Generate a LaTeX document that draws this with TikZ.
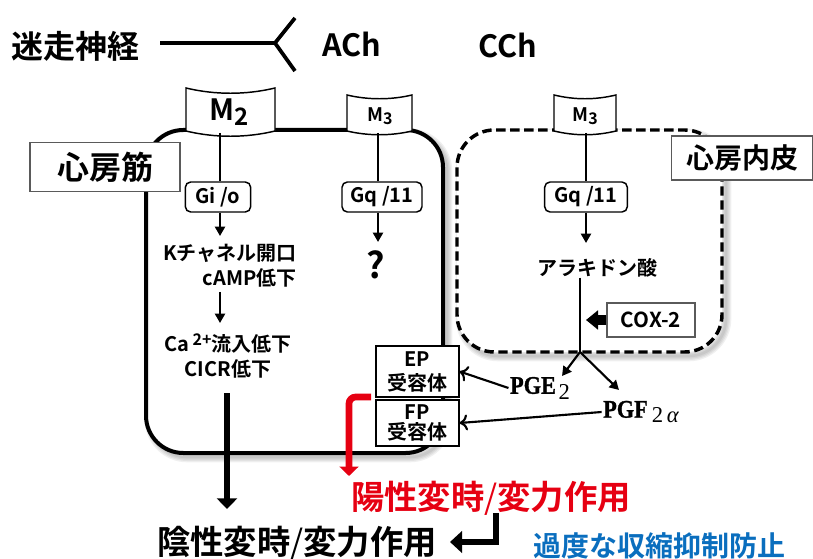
\documentclass[tikz,border=0pt]{standalone}
\usepackage{fontspec}
\setmainfont{Noto Sans CJK JP}[BoldFont={Noto Sans CJK JP Bold}]
\newfontfamily\pgfont{Liberation Serif}[BoldFont={Liberation Serif Bold},BoldFeatures={FakeBold=1.2}]
\usetikzlibrary{arrows.meta}
\definecolor{redc}{RGB}{230,0,18}
\definecolor{bluec}{RGB}{10,110,190}
\definecolor{grayb}{RGB}{90,90,90}
\newcommand\myfs[2]{\fontsize{#1}{#2}\selectfont}
\newcommand\slsh{{\mdseries /}}
\begin{document}
\begin{tikzpicture}[x=0.75pt,y=-0.75pt,
  txt/.style={font=\bfseries\myfs{#1}{#1}, inner sep=0pt},
  gbox/.style={draw, rounded corners=4pt, line width=1.1pt, fill=white, inner xsep=2pt, inner ysep=0pt, minimum height=22.5pt, font=\bfseries\myfs{15}{15}},
  rbox/.style={draw, line width=1.1pt, fill=white, inner sep=0pt, align=center},
  gybox/.style={draw=grayb, line width=0.8pt, fill=white, inner sep=0pt},
  thin/.style={line width=1.6pt},
  tri/.style={-{Triangle[length=7pt,width=7.5pt]}},
  opn/.style={-{To[length=6pt,width=12pt,line width=1.6pt]}},
  recep/.style={draw, fill=white, line width=1.1pt},
  shad/.style={draw=black, opacity=0.06, rounded corners=28pt},
  pgtxt/.style={font=\pgfont\myfs{19}{19}, inner sep=1pt}
]
\useasboundingbox (0,0) rectangle (813,559);

% shadows
\foreach \w in {2,4,6,8}{
  \draw[shad, line width=\w pt] (150,134) rectangle (447,457);
  \draw[shad, line width=\w pt] (461,134) rectangle (726,356);
}
% cells
\draw[line width=3pt, rounded corners=28pt, fill=white] (146,130) rectangle (443,453);
\draw[line width=2.6pt, dash pattern=on 7pt off 3.5pt, rounded corners=28pt, fill=white] (457,130) rectangle (722,352);

% vagus
\node[txt=24] (vagus) at (76,46) {迷走神経};
\coordinate (vl) at (160,43);
\coordinate (fork) at (275,43);
\coordinate (fu) at (295,18);
\coordinate (fd) at (295,71);
\draw[line width=2.8pt] (vl) -- (fork);
\draw[line width=2.8pt] (fu) -- (fork) -- (fd);
\node[txt=23] (ach) at (352,44) {ACh};
\node[txt=23] (cch) at (508,45) {CCh};

% receptors
\draw[recep] (186,88) .. controls (215,95) and (246,95) .. (275,88) -- (275,131) .. controls (246,138) and (215,138) .. (186,131) -- cycle;
\node[txt=22] (m2) at (229,112) {M\raisebox{-0.35ex}{\myfs{18}{18}2}};
\draw[recep] (347,95) .. controls (368,100) and (391,100) .. (412,95) -- (412,131) .. controls (391,136) and (368,136) .. (347,131) -- cycle;
\node[txt=14] (m3a) at (380,116) {M\raisebox{-0.35ex}{\myfs{12}{12}3}};
\draw[recep] (554,95) .. controls (575,100) and (595,100) .. (616,95) -- (616,131) .. controls (595,136) and (575,136) .. (554,131) -- cycle;
\node[txt=14] (m3b) at (585,116) {M\raisebox{-0.35ex}{\myfs{12}{12}3}};

% labels
\node[gybox, minimum width=112.5pt, minimum height=37pt, font=\bfseries\myfs{24}{24}] (atrium) at (105,167) {心房筋};
\node[gybox, minimum width=106pt, minimum height=33pt, font=\bfseries\myfs{21}{21}] (endo) at (742,158) {心房内皮};

% left pathway
\coordinate (m2b) at (220,133);
\node[gbox, minimum width=49pt] (gio) at (218,197) {Gi /o};
\draw[thin] (m2b) -- (m2b |- gio.north);
\coordinate (ka) at (220,236);
\draw[thin,tri] (m2b |- gio.south) -- (ka);
\node[font=\bfseries\myfs{15}{19}, align=right, anchor=east, inner sep=0pt] (ktxt) at (297,266) {Kチャネル開口\\cAMP低下};
\coordinate (c1) at (220,292);
\coordinate (c2) at (220,323);
\draw[thin,tri] (c1) -- (c2);
\node[font=\bfseries\myfs{15}{19}, align=center, inner sep=0pt] (catxt) at (228,356) {Ca\,\raisebox{0.55ex}{\myfs{12}{12}2+}流入低下\\CICR低下};
\coordinate (b1) at (227,393);
\coordinate (b2) at (227,509);
\draw[line width=4.5pt, -{Triangle[length=8pt,width=15pt]}] (b1) -- (b2);

% middle pathway
\coordinate (m3ab) at (378,133);
\node[gbox, minimum width=60pt] (gq1) at (382,197) {Gq /11};
\draw[thin] (m3ab) -- (m3ab |- gq1.north);
\coordinate (qa) at (378,242);
\draw[thin,tri] (m3ab |- gq1.south) -- (qa);
\node[txt=27] (q) at (376,265) {?};

% endothelium pathway
\coordinate (m3bb) at (586,133);
\node[gbox, minimum width=62pt] (gq2) at (586,197) {Gq /11};
\draw[thin] (m3bb) -- (m3bb |- gq2.north);
\coordinate (aa) at (586,243);
\draw[thin,tri] (m3bb |- gq2.south) -- (aa);
\node[txt=15] (ara) at (597,268) {アラキドン酸};
\coordinate (br) at (580,352);
\draw[thin] (ara.south -| br) -- (br);
\node[gybox, minimum width=66pt, minimum height=25.5pt, font=\bfseries\myfs{15.5}{15.5}] (cox) at (651,320) {COX-2};
\coordinate (coxt) at (586,320);
\draw[line width=7pt, -{Triangle[length=9pt,width=14pt]}] (cox.west) -- (coxt);

\coordinate (e1) at (562,376);
\coordinate (f1) at (619,390);
\draw[thin,tri] (br) -- (e1);
\draw[thin,tri] (br) -- (f1);

\node[pgtxt] (pge) at (540,388) {{\bfseries\scalebox{0.88}[1]{PGE}}\hspace{2pt}\raisebox{-0.45ex}{\myfs{17}{17}2}};
\node[pgtxt] (pgf) at (641,412) {{\bfseries\scalebox{0.88}[1]{PGF}}\hspace{3pt}\raisebox{-0.45ex}{\myfs{17}{17}2\,\itshape α}};

\node[rbox, minimum width=62pt, minimum height=38pt, font=\bfseries\myfs{15}{18}] (ep) at (417.5,371.5) {EP\\受容体};
\node[rbox, minimum width=62pt, minimum height=34.5pt, font=\bfseries\myfs{15}{15.5}] (fp) at (417.5,423) {FP\\受容体};
\draw[thin,opn] (pge.west) -- (ep.east);
\draw[thin,opn] (pgf.west) -- (fp.east);

% red arrow
\coordinate (r0) at (371,397);
\coordinate (r1) at (349,397);
\coordinate (r2) at (349,476);
\draw[redc, line width=5pt, rounded corners=5pt, -{Triangle[length=7pt,width=14pt]}] (r0) -- (r1) -- (r2);

% bottom texts
\node[txt=25, text=redc] (pos) at (491,498) {陽性変時\slsh 変力作用};
\node[txt=25] (neg) at (297,543) {陰性変時\slsh 変力作用};
\coordinate (k0) at (496,513);
\coordinate (k1) at (496,542);
\coordinate (k2) at (450,542);
\draw[line width=5pt, -{Triangle[length=9pt,width=16pt]}] (k0) -- (k1) -- (k2);
\node[txt=21, text=bluec] (prev) at (659,546) {過度な収縮抑制防止};
\end{tikzpicture}
\end{document}
